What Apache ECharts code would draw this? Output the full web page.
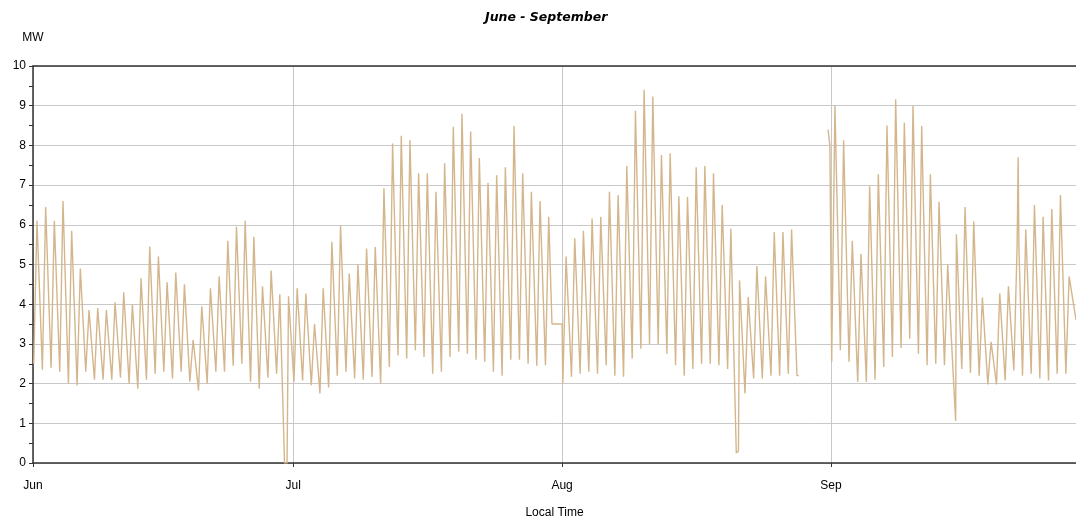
<!DOCTYPE html>
<html><head><meta charset="utf-8">
<script src="https://cdn.jsdelivr.net/npm/echarts@6/dist/echarts.min.js"></script>
<style>html,body{margin:0;padding:0;background:#fff}#c{width:1076px;height:519px}</style>
</head><body><div id="c"></div>
<script>
const YEAR = 2013;
const titleText = 'June - September';
const yName = 'MW';
const xName = 'Local Time';

// daily night lows and daytime highs (MW); null = no data
const junLow  = [2.5,2.35,2.4,2.3,2.0,1.95,2.3,2.1,2.1,2.1, 2.15,2.0,1.87,2.1,2.25,2.3,2.13,2.3,2.05,1.83, 2.0,2.3,2.3,2.45,2.5,2.05,1.87,2.15,2.25,0];
const junHigh = [6.1,6.45,6.1,6.6,5.85,4.9,3.85,3.9,3.85,4.05, 4.3,4.0,4.65,5.45,5.2,4.55,4.8,4.5,3.1,3.95, 4.4,4.7,5.6,5.95,6.1,5.7,4.45,4.85,4.25,4.2];
const julLow  = [2.04,2.08,1.96,1.75,1.9,2.2,2.3,2.13,2.1,2.17, 2.0,2.42,2.71,2.63,2.84,2.67,2.25,2.3,2.67,2.8, 2.75,2.6,2.55,2.3,2.2,2.6,2.6,2.5,2.45,2.46, 3.5];
const julHigh = [4.4,4.27,3.5,4.4,5.57,5.97,4.77,5.0,5.4,5.44, 6.92,8.05,8.24,8.13,7.3,7.3,6.83,7.55,8.47,8.8, 8.35,7.68,7.06,7.25,7.45,8.49,7.3,6.83,6.6,6.2, 3.5];
const augLow  = [2.0,2.17,2.25,2.3,2.25,2.46,2.2,2.17,2.63,2.88, 3.0,3.0,2.75,2.46,2.2,2.37,2.5,2.5,2.46,2.37, 0.25,1.75,2.13,2.13,2.2,2.2,2.25,2.2,null,null, null];
const augHigh = [5.2,5.66,5.85,6.16,6.2,6.83,6.75,7.48,8.87,9.4, 9.23,7.76,7.8,6.72,6.7,7.45,7.48,7.3,6.5,5.9, 4.6,4.18,4.96,4.7,5.82,5.82,5.88,null,null,null, null];
const sepLow  = [2.55,2.84,2.55,2.04,2.04,2.1,2.42,2.67,2.9,3.13, 2.75,2.46,2.5,2.46,2.27,2.37,2.27,2.2,1.98,1.98, 2.08,2.33,2.2,2.25,2.13,2.08,2.25,2.25];
const sepHigh = [9.0,8.13,5.6,5.27,6.97,7.27,8.5,9.16,8.57,8.99, 8.49,7.27,6.58,5.0,5.76,6.45,6.08,4.17,3.05,4.27, 4.45,5.44,5.88,6.5,6.2,6.4,6.75,4.7];

// individual readings: [month (1-12), day, hour, MW]
const extraPoints = [
  [6,30,0,0],[6,30,7,0],
  [7,30,20,3.5],[8,1,0,3.5],
  [8,21,8,0.3],
  [8,31,16,8.4],[8,31,21,8.0],
  [9,15,9,1.06],
  [9,22,14,7.7],
  [9,29,6,3.6]
];

// hours at which the night low and the daytime high are held
const lowHours = [2, 7];
const highHours = [11, 16];

const months = [[6,junLow,junHigh],[7,julLow,julHigh],[8,augLow,augHigh],[9,sepLow,sepHigh]];
const pts = new Map();
months.forEach(([m, lo, hi]) => {
  lo.forEach((v, i) => {
    const d = i + 1;
    lowHours.forEach(h => pts.set(Date.UTC(YEAR, m - 1, d, h), lo[i]));
    highHours.forEach(h => pts.set(Date.UTC(YEAR, m - 1, d, h), hi[i]));
  });
});
extraPoints.forEach(([m, d, h, v]) => pts.set(Date.UTC(YEAR, m - 1, d, h), v));
const data = Array.from(pts.entries()).sort((a, b) => a[0] - b[0])
  .map(([t, v]) => [t, v == null ? '-' : v]);

const xMin = Date.UTC(YEAR, 5, 1);
const xMax = Date.UTC(YEAR, 8, 29, 6);
const font = 'Liberation Sans, Arial, sans-serif';

const chart = echarts.init(document.getElementById('c'), null, {renderer: 'canvas'});
chart.setOption({
  useUTC: true,
  animation: false,
  backgroundColor: '#fff',
  title: {
    text: titleText, left: 480, top: 6,
    textStyle: {fontSize: 12.5, fontWeight: 'bold', fontStyle: 'italic', color: '#000', fontFamily: 'DejaVu Sans'}
  },
  grid: {left: 33, right: 0, top: 66, bottom: 56, outerBoundsMode: 'none', containLabel: false},
  xAxis: [{
    type: 'time', min: xMin, max: xMax,
    minInterval: 28 * 86400000, maxInterval: 31 * 86400000,
    name: xName, nameLocation: 'middle', nameGap: 44,
    nameTextStyle: {fontSize: 12, color: '#000', fontFamily: font},
    axisLine: {lineStyle: {color: '#333', width: 1.5}},
    axisTick: {show: true, length: 4, lineStyle: {color: '#333'}},
    axisLabel: {formatter: '{MMM}', fontSize: 12, color: '#000', fontFamily: font, margin: 17,
      showMinLabel: true, showMaxLabel: false, hideOverlap: false},
    splitLine: {show: true, lineStyle: {color: '#c8c8c8', width: 1}}
  }, {
    type: 'time', min: xMin, max: xMax, position: 'top',
    axisLine: {show: true, lineStyle: {color: '#333', width: 1.5}},
    axisTick: {show: false}, axisLabel: {show: false}, splitLine: {show: false}
  }],
  yAxis: {
    type: 'value', min: 0, max: 10, interval: 1,
    name: yName, nameLocation: 'end', nameGap: 22,
    nameTextStyle: {fontSize: 12, color: '#000', fontFamily: font, align: 'center'},
    axisLine: {show: true, lineStyle: {color: '#333', width: 1.5}},
    axisTick: {show: true, length: 4, lineStyle: {color: '#333'}},
    minorTick: {show: true, splitNumber: 2, length: 4, lineStyle: {color: '#333'}},
    axisLabel: {fontSize: 12, color: '#000', fontFamily: font, margin: 7},
    splitLine: {show: true, lineStyle: {color: '#c8c8c8', width: 1}}
  },
  series: [{
    type: 'line', data: data, showSymbol: false, connectNulls: false,
    lineStyle: {color: '#d4b68c', width: 1.4},
    itemStyle: {color: '#d4b68c'}
  }]
});
</script>
</body></html>
